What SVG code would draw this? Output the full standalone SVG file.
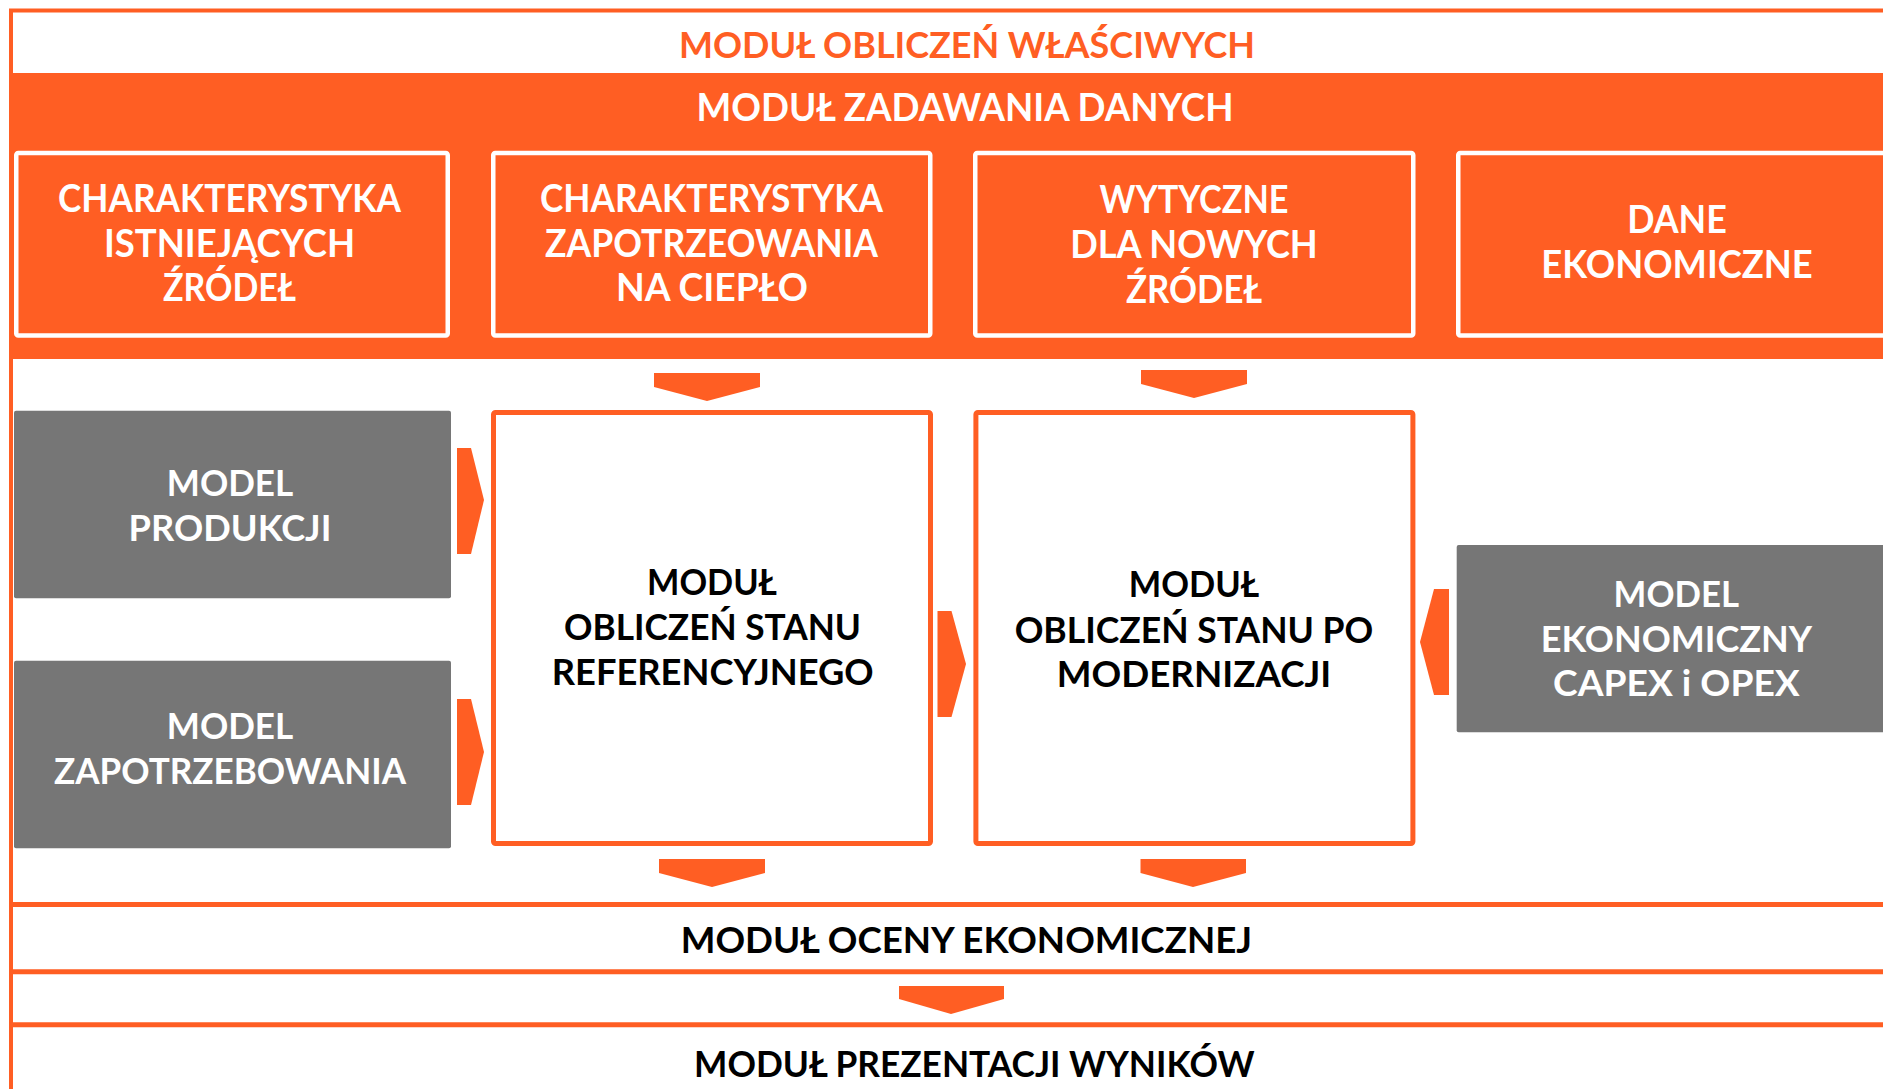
<svg xmlns="http://www.w3.org/2000/svg" width="1883" height="1089" viewBox="0 0 1883 1089">
  <style>
    text { font-family: Lato, "Liberation Sans", "DejaVu Sans", sans-serif; font-weight: bold; text-anchor: middle; }
    .t-or { fill: #FF5E23; font-size: 37px; }
    .t-wh { fill: #FFFFFF; font-size: 38px; }
    .t-bk { fill: #000000; font-size: 36px; }
    .t-gw { fill: #FFFFFF; font-size: 37px; }
    .inbox { fill: #FF5E23; stroke: #FFFFFF; stroke-width: 4.5; }
    .calc { fill: #FFFFFF; stroke: #FF5E23; stroke-width: 5; }
    .model { fill: #767676; }
    .sep { stroke: #FF5E23; stroke-width: 5; fill: none; }
    .arrow { fill: #FF5E23; }
  </style>

  <!-- outer frame of the computation module -->
  <g id="frame">
    <rect x="11" y="10.5" width="1900" height="1100" fill="#FFFFFF" stroke="#FF5E23" stroke-width="4"/>
    <text class="t-or" x="967" y="58.3" textLength="576" lengthAdjust="spacingAndGlyphs">MODUŁ OBLICZEŃ WŁAŚCIWYCH</text>
  </g>

  <!-- data input band -->
  <g id="input-band">
    <rect x="9" y="73" width="1900" height="286" fill="#FF5E23"/>
    <text class="t-wh" x="965" y="120.7" textLength="537" lengthAdjust="spacingAndGlyphs">MODUŁ ZADAWANIA DANYCH</text>
  </g>

  <g id="input-existing">
    <rect class="inbox" x="16.25" y="153" width="431.5" height="182.5" rx="2"/>
    <text class="t-wh" x="229.5" y="212.3" textLength="343" lengthAdjust="spacingAndGlyphs">CHARAKTERYSTYKA</text>
    <text class="t-wh" x="229.5" y="256.5" textLength="251" lengthAdjust="spacingAndGlyphs">ISTNIEJĄCYCH</text>
    <text class="t-wh" x="229.5" y="301" textLength="133" lengthAdjust="spacingAndGlyphs">ŹRÓDEŁ</text>
  </g>

  <g id="input-demand">
    <rect class="inbox" x="493.25" y="153" width="437" height="182.5" rx="2"/>
    <text class="t-wh" x="711.5" y="212.3" textLength="343" lengthAdjust="spacingAndGlyphs">CHARAKTERYSTYKA</text>
    <text class="t-wh" x="711.5" y="256.5" textLength="333" lengthAdjust="spacingAndGlyphs">ZAPOTRZEOWANIA</text>
    <text class="t-wh" x="712" y="301" textLength="192" lengthAdjust="spacingAndGlyphs">NA CIEPŁO</text>
  </g>

  <g id="input-guidelines">
    <rect class="inbox" x="975.25" y="153" width="438" height="182.5" rx="2"/>
    <text class="t-wh" x="1194" y="212.5" textLength="189" lengthAdjust="spacingAndGlyphs">WYTYCZNE</text>
    <text class="t-wh" x="1194" y="258" textLength="247.5" lengthAdjust="spacingAndGlyphs">DLA NOWYCH</text>
    <text class="t-wh" x="1194" y="303" textLength="136" lengthAdjust="spacingAndGlyphs">ŹRÓDEŁ</text>
  </g>

  <g id="input-economic">
    <rect class="inbox" x="1458.25" y="153" width="438" height="182.5" rx="2"/>
    <text class="t-wh" x="1677" y="233" textLength="99.6" lengthAdjust="spacingAndGlyphs">DANE</text>
    <text class="t-wh" x="1677" y="278" textLength="271.5" lengthAdjust="spacingAndGlyphs">EKONOMICZNE</text>
  </g>

  <!-- models feeding the calculation modules -->
  <g id="model-production">
    <rect class="model" x="14" y="410.7" width="437" height="187.6" rx="2"/>
    <text class="t-gw" x="230" y="496" textLength="126.4" lengthAdjust="spacingAndGlyphs">MODEL</text>
    <text class="t-gw" x="230" y="541" textLength="202.8" lengthAdjust="spacingAndGlyphs">PRODUKCJI</text>
  </g>

  <g id="model-demand">
    <rect class="model" x="14" y="660.7" width="437" height="187.6" rx="2"/>
    <text class="t-gw" x="230" y="739.3" textLength="126.4" lengthAdjust="spacingAndGlyphs">MODEL</text>
    <text class="t-gw" x="230" y="784.3" textLength="352" lengthAdjust="spacingAndGlyphs">ZAPOTRZEBOWANIA</text>
  </g>

  <g id="model-economic">
    <rect class="model" x="1456.7" y="545" width="440" height="187.3" rx="2"/>
    <text class="t-gw" x="1676.3" y="607.3" textLength="125.4" lengthAdjust="spacingAndGlyphs">MODEL</text>
    <text class="t-gw" x="1676.5" y="652.3" textLength="271.4" lengthAdjust="spacingAndGlyphs">EKONOMICZNY</text>
    <text class="t-gw" x="1676.4" y="696" textLength="246.7" lengthAdjust="spacingAndGlyphs">CAPEX i OPEX</text>
  </g>

  <!-- calculation modules -->
  <g id="calc-reference">
    <rect class="calc" x="493.5" y="412.5" width="437" height="431" rx="2"/>
    <text class="t-bk" x="712" y="595" textLength="130" lengthAdjust="spacingAndGlyphs">MODUŁ</text>
    <text class="t-bk" x="712.5" y="640" textLength="297" lengthAdjust="spacingAndGlyphs">OBLICZEŃ STANU</text>
    <text class="t-bk" x="712.7" y="685" textLength="322" lengthAdjust="spacingAndGlyphs">REFERENCYJNEGO</text>
  </g>

  <g id="calc-modernized">
    <rect class="calc" x="975.9" y="412.5" width="437" height="431" rx="2"/>
    <text class="t-bk" x="1194" y="597.3" textLength="130.4" lengthAdjust="spacingAndGlyphs">MODUŁ</text>
    <text class="t-bk" x="1194" y="642.7" textLength="358.7" lengthAdjust="spacingAndGlyphs">OBLICZEŃ STANU PO</text>
    <text class="t-bk" x="1194" y="687.3" textLength="274.6" lengthAdjust="spacingAndGlyphs">MODERNIZACJI</text>
  </g>

  <!-- output modules separated by horizontal rules -->
  <g id="economic-assessment">
    <line class="sep" x1="9" y1="904.5" x2="1900" y2="904.5"/>
    <text class="t-bk" x="966.4" y="952.7" textLength="571.3" lengthAdjust="spacingAndGlyphs">MODUŁ OCENY EKONOMICZNEJ</text>
  </g>

  <g id="results-presentation">
    <line class="sep" x1="9" y1="971.8" x2="1900" y2="971.8"/>
    <line class="sep" x1="9" y1="1024.8" x2="1900" y2="1024.8"/>
    <text class="t-bk" x="974.3" y="1076.7" textLength="560.5" lengthAdjust="spacingAndGlyphs">MODUŁ PREZENTACJI WYNIKÓW</text>
  </g>

  <!-- chevron connectors -->
  <g id="connectors">
    <polygon class="arrow" points="654,373 760,373 760,387 707,401 654,387"/>
    <polygon class="arrow" points="1141,370 1247,370 1247,384 1194,398 1141,384"/>
    <polygon class="arrow" points="457,448 471,448 484,500 471,554 457,554"/>
    <polygon class="arrow" points="457,699 471,699 484,752 471,805 457,805"/>
    <polygon class="arrow" points="937.5,611 951.5,611 966,664 951.5,717 937.5,717"/>
    <polygon class="arrow" points="1449,589 1434,589 1420,642 1434,695 1449,695"/>
    <polygon class="arrow" points="659,859 765,859 765,873 712,887 659,873"/>
    <polygon class="arrow" points="1140.5,859 1246,859 1246,873 1193,887 1140.5,873"/>
    <polygon class="arrow" points="899,986 1004,986 1004,999 951,1014 899,999"/>
  </g>
</svg>
